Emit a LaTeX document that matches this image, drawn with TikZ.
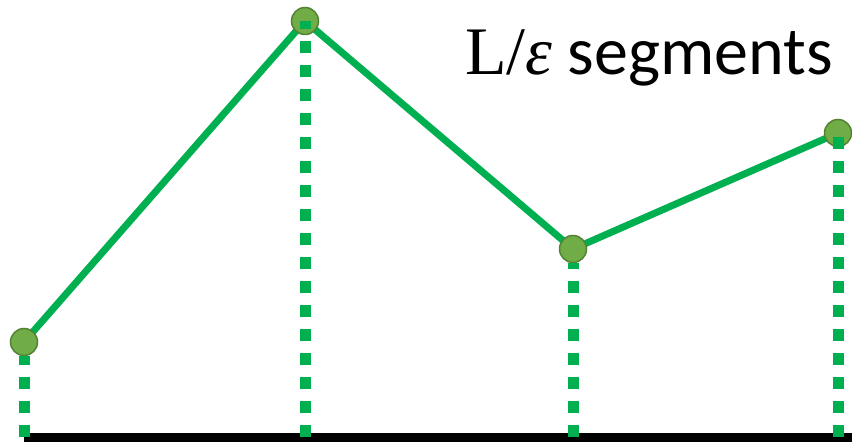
\documentclass[tikz,border=0pt]{standalone}
\usepackage{fontspec}
\setmainfont{Carlito}
\newfontfamily\serifL{Liberation Serif}
\begin{document}
\begin{tikzpicture}[x=1pt,y=-1pt,
  seg/.style={draw=segGreen,line width=7pt},
  vdots/.style={draw=segGreen,line width=11pt,dash pattern=on 12pt off 12pt},
  pt/.style={circle,fill=ptFill,draw=ptEdge,line width=1.5pt,minimum size=27pt,inner sep=0pt},
  baseline/.style={draw=black,line width=9pt}]
\definecolor{segGreen}{HTML}{00B050}
\definecolor{ptFill}{HTML}{70AD47}
\definecolor{ptEdge}{HTML}{548235}
\useasboundingbox (0,0) rectangle (852,443);
\coordinate (p1) at (24,342);
\coordinate (p2) at (305,21);
\coordinate (p3) at (573,249);
\coordinate (p4) at (838,133);
\coordinate (b1) at (24,437);
\coordinate (b2) at (305,437);
\coordinate (b3) at (573,437);
\coordinate (b4) at (838,437);
\coordinate (bl) at (24,437.5);
\coordinate (br) at (852,437.5);
\draw[baseline] (bl) -- (br);
\draw[seg] (p1) -- (p2) -- (p3) -- (p4);
\node[pt] (n1) at (p1) {};
\node[pt] (n2) at (p2) {};
\node[pt] (n3) at (p3) {};
\node[pt] (n4) at (p4) {};
\draw[vdots] (b1) -- (n1.south);
\draw[vdots] (b2) -- (p2);
\draw[vdots] (b3) -- (n3.south);
\draw[vdots] (b4) -- (p4);
\node[anchor=base,inner sep=0pt,font=\fontsize{68}{72}\selectfont] (lbl) at (649,75) {{\serifL L/\itshape ε} segments};
\end{tikzpicture}
\end{document}
